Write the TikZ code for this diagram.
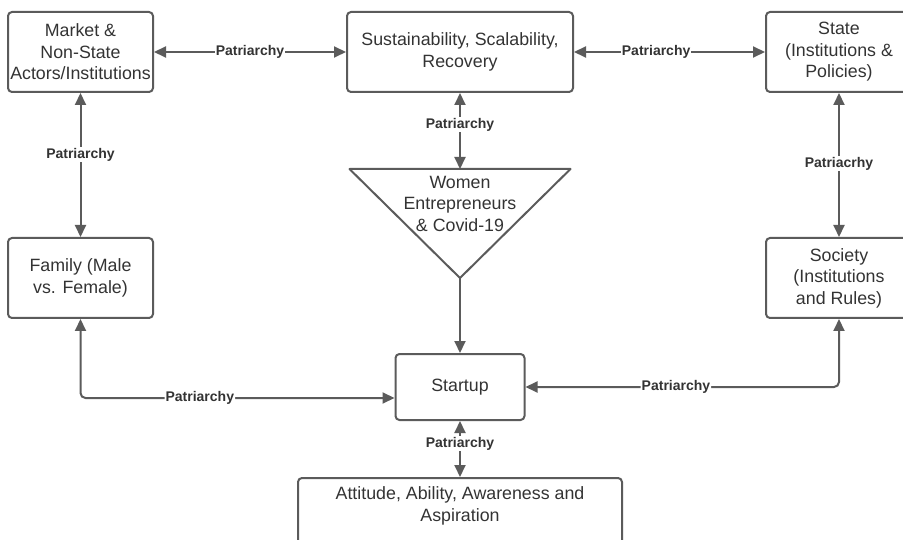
\documentclass[tikz,border=0pt]{standalone}
\usepackage{fontspec}
\setmainfont{Liberation Sans}
\usetikzlibrary{arrows.meta,positioning,shapes.geometric}
\definecolor{linegray}{HTML}{5B5B5B}
\definecolor{textgray}{HTML}{333333}
\tikzset{%
	block/.style    = {draw=linegray, rectangle, rounded corners=4pt, line width=2pt, align=center, text=textgray, font=\fontsize{17.8}{21.5}\selectfont, inner sep=1pt}, % Box
	bigblock/.style = {block, minimum width=145pt, minimum height=80pt}, % Corner box
	plain/.style    = {align=center, text=textgray, font=\fontsize{17.8}{21.5}\selectfont, inner sep=1pt}, % Text only
	link/.style     = {draw=linegray, line width=2pt}, % Connector
	tag/.style      = {fill=white, text=textgray, font=\fontsize{14}{16}\selectfont\bfseries, inner sep=1pt}, % Label
	waypoint/.style = {coordinate},
}
\begin{document}
\begin{tikzpicture}[x=1pt,y=-1pt,node distance=379.5pt,>={Triangle[length=12pt,width=11pt]}]
	\useasboundingbox (0,0) rectangle (903,540);
	\node [bigblock] (mkt) at (80.5,52) {Market \&\\Non-State\\Actors/Institutions};
	\node [block,minimum width=226pt,minimum height=80pt] (sus) [right of=mkt] {Sustainability, Scalability,\\Recovery};
	\node [bigblock,minimum width=146pt] (state) [right of=sus,node distance=379pt] {State\\(Institutions \&\\Policies)};
	\node [bigblock] (fam) [below of=mkt,node distance=226pt] {Family (Male\\vs. Female)};
	\node [bigblock,minimum width=146pt] (soc) [below of=state,node distance=226pt] {Society\\(Institutions\\and Rules)};
	\node [plain] (tri) [below of=sus,node distance=151.5pt] {Women\\Entrepreneurs\\\& Covid-19};
	\node [block,minimum width=129pt,minimum height=66pt] (start) [below of=sus,node distance=335pt] {Startup};
	\node [block,minimum width=324pt,minimum height=70pt,text depth=17.5pt] (att) [below of=start,node distance=126pt] {Attitude, Ability, Awareness and\\Aspiration};
	
	\coordinate (trileft) at ([shift={(-110.5,-34.5)}]tri);
	\coordinate (triright) at ([shift={(110.5,-34.5)}]tri);
	\coordinate (tritop) at ([shift={(0,-34.5)}]tri);
	\coordinate (triapex) at ([shift={(0,74.5)}]tri);
	\draw [link,line join=round] (trileft) -- (triright) -- (triapex) -- cycle;
	
	\draw [link,<->] (mkt) -- node[tag] {Patriarchy} (sus);
	\draw [link,<->] (sus) -- node[tag,pos=0.43] {Patriarchy} (state);
	\draw [link,<->] (mkt) -- node[tag,pos=0.43] {Patriarchy} (fam);
	\draw [link,<->] (state) -- node[tag,pos=0.49] {Patriacrhy} (soc);
	\draw [link,<->] (sus) -- node[tag,pos=0.42] {Patriarchy} (tritop);
	\draw [link,->] (triapex) -- (start);
	\draw [link,<->,rounded corners=5pt] (fam) |- node[tag,pos=0.69] {Patriarchy} ([yshift=-11pt]start.west);
	\draw [link,<->,rounded corners=5pt] (soc) |- node[tag,pos=0.76] {Patriarchy} (start);
	\draw [link,<->] (start) -- node[tag,pos=0.4] {Patriarchy} (att);
\end{tikzpicture}
\end{document}
